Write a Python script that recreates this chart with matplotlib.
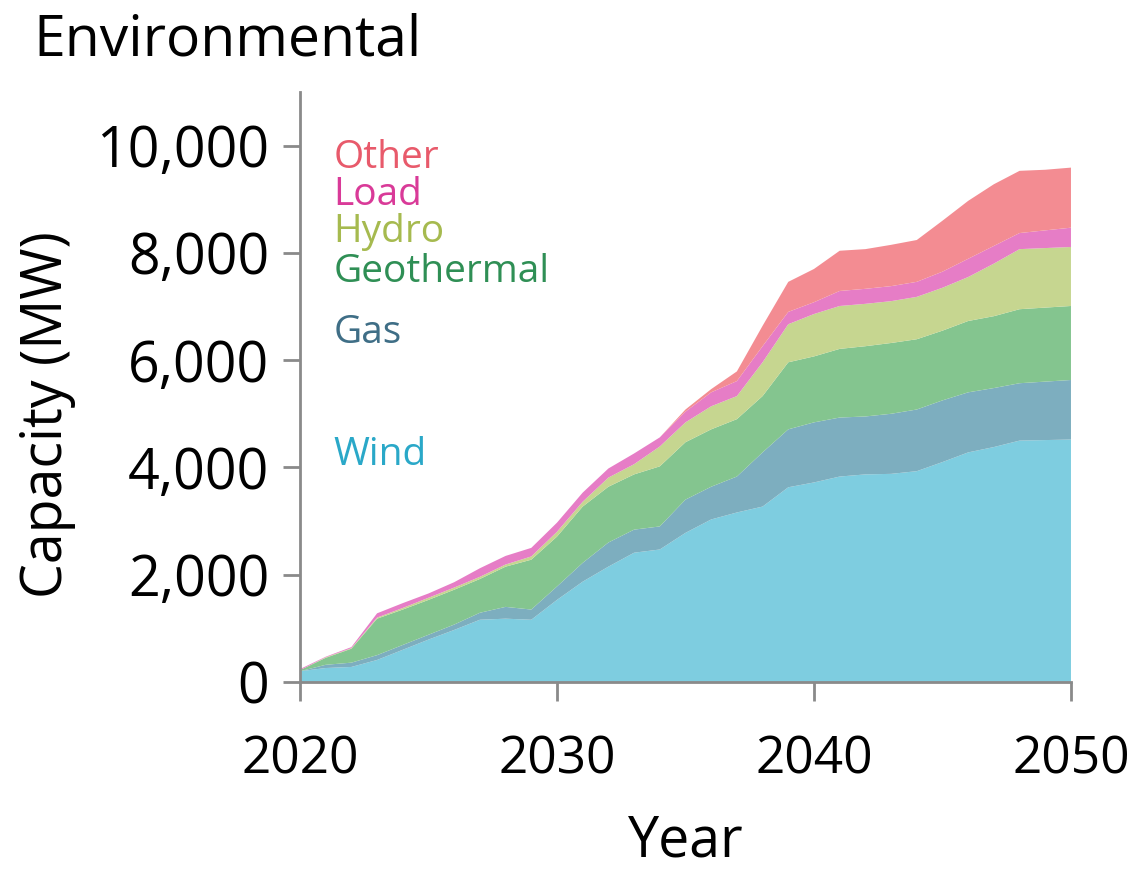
import matplotlib
matplotlib.use("Agg")
import matplotlib.pyplot as plt
import numpy as np

# capacity by resource type (MW)
years = list(range(2020, 2051))
wind = [200, 260, 280, 410, 600, 790, 970, 1160, 1180, 1160, 1530, 1870, 2150, 2410, 2470, 2780,
        3030, 3160, 3270, 3630, 3720, 3830, 3870, 3880, 3930, 4100, 4280, 4380, 4500, 4510, 4520]
gas = [0, 60, 80, 90, 90, 90, 100, 130, 220, 190, 250, 350, 450, 430, 430, 620,
       610, 670, 1010, 1080, 1120, 1100, 1080, 1120, 1150, 1150, 1120, 1100, 1070, 1090, 1110]
geothermal = [20, 130, 260, 680, 660, 650, 650, 630, 750, 930, 930, 1050, 1040, 1030, 1120, 1070,
              1070, 1070, 1050, 1250, 1230, 1280, 1310, 1320, 1310, 1300, 1330, 1340, 1380, 1380, 1380]
hydro = [0, 10, 10, 20, 30, 40, 40, 40, 40, 60, 90, 90, 170, 190, 370, 370,
         430, 430, 630, 710, 790, 800, 790, 780, 790, 800, 820, 980, 1120, 1110, 1100]
load = [20, 10, 20, 80, 90, 80, 100, 160, 160, 160, 170, 170, 170, 200, 170, 200,
        260, 280, 300, 230, 220, 280, 280, 280, 280, 300, 340, 330, 300, 330, 360]
other = [0, 0, 0, 0, 0, 0, 0, 0, 0, 0, 0, 0, 0, 0, 0, 40,
         60, 180, 380, 560, 620, 750, 740, 770, 780, 950, 1080, 1150, 1160, 1130, 1120]

series_names = ["Wind", "Gas", "Geothermal", "Hydro", "Load", "Other"]
fill_colors = ["#7ECDE0", "#7DAEBF", "#84C58F", "#C6D690", "#E67DC6", "#F38C92"]
text_colors = ["#2AA8C8", "#3F6E86", "#2F8F55", "#A6BA4F", "#D93A98", "#E85A6B"]

plt.rcParams['font.family'] = ['Open Sans', 'DejaVu Sans']

fig = plt.figure(figsize=(11.38, 8.76), dpi=100)
ax = fig.add_axes([0.2636, 0.2215, 0.6775, 0.6735])

ax.stackplot(years, wind, gas, geothermal, hydro, load, other,
             colors=fill_colors, linewidth=0)

ax.set_xlim(2020, 2050)
ax.set_ylim(0, 11000)
ax.set_xticks([2020, 2030, 2040, 2050])
ax.set_yticks(range(0, 10001, 2000))
ax.set_yticklabels([f"{v:,}" for v in range(0, 10001, 2000)])

for side in ["top", "right"]:
    ax.spines[side].set_visible(False)
for side in ["left", "bottom"]:
    ax.spines[side].set_color("#8a8a8a")
    ax.spines[side].set_linewidth(2)

ax.tick_params(axis="both", colors="#8a8a8a", width=2, labelcolor="black")
ax.tick_params(axis="y", length=12, pad=10, labelsize=40)
ax.tick_params(axis="x", length=14, pad=24, labelsize=37)

ax.set_xlabel("Year", fontsize=40, labelpad=20)
ax.set_ylabel("Capacity (MW)", fontsize=40)
ax.yaxis.set_label_coords(-0.290, 0.454)

fig.text(0.029, 0.937, "Environmental", fontsize=41, ha="left", va="baseline")

# labels at the upper left, in the colour of their layer
label_y = {"Other": 0.888, "Load": 0.826, "Hydro": 0.762,
           "Geothermal": 0.695, "Gas": 0.592, "Wind": 0.385}
for name, col in zip(series_names, text_colors):
    ax.text(0.043, label_y[name], name, transform=ax.transAxes, color=col,
            fontsize=28, ha="left", va="center")

fig.savefig("out.png", dpi=100, facecolor="white")
